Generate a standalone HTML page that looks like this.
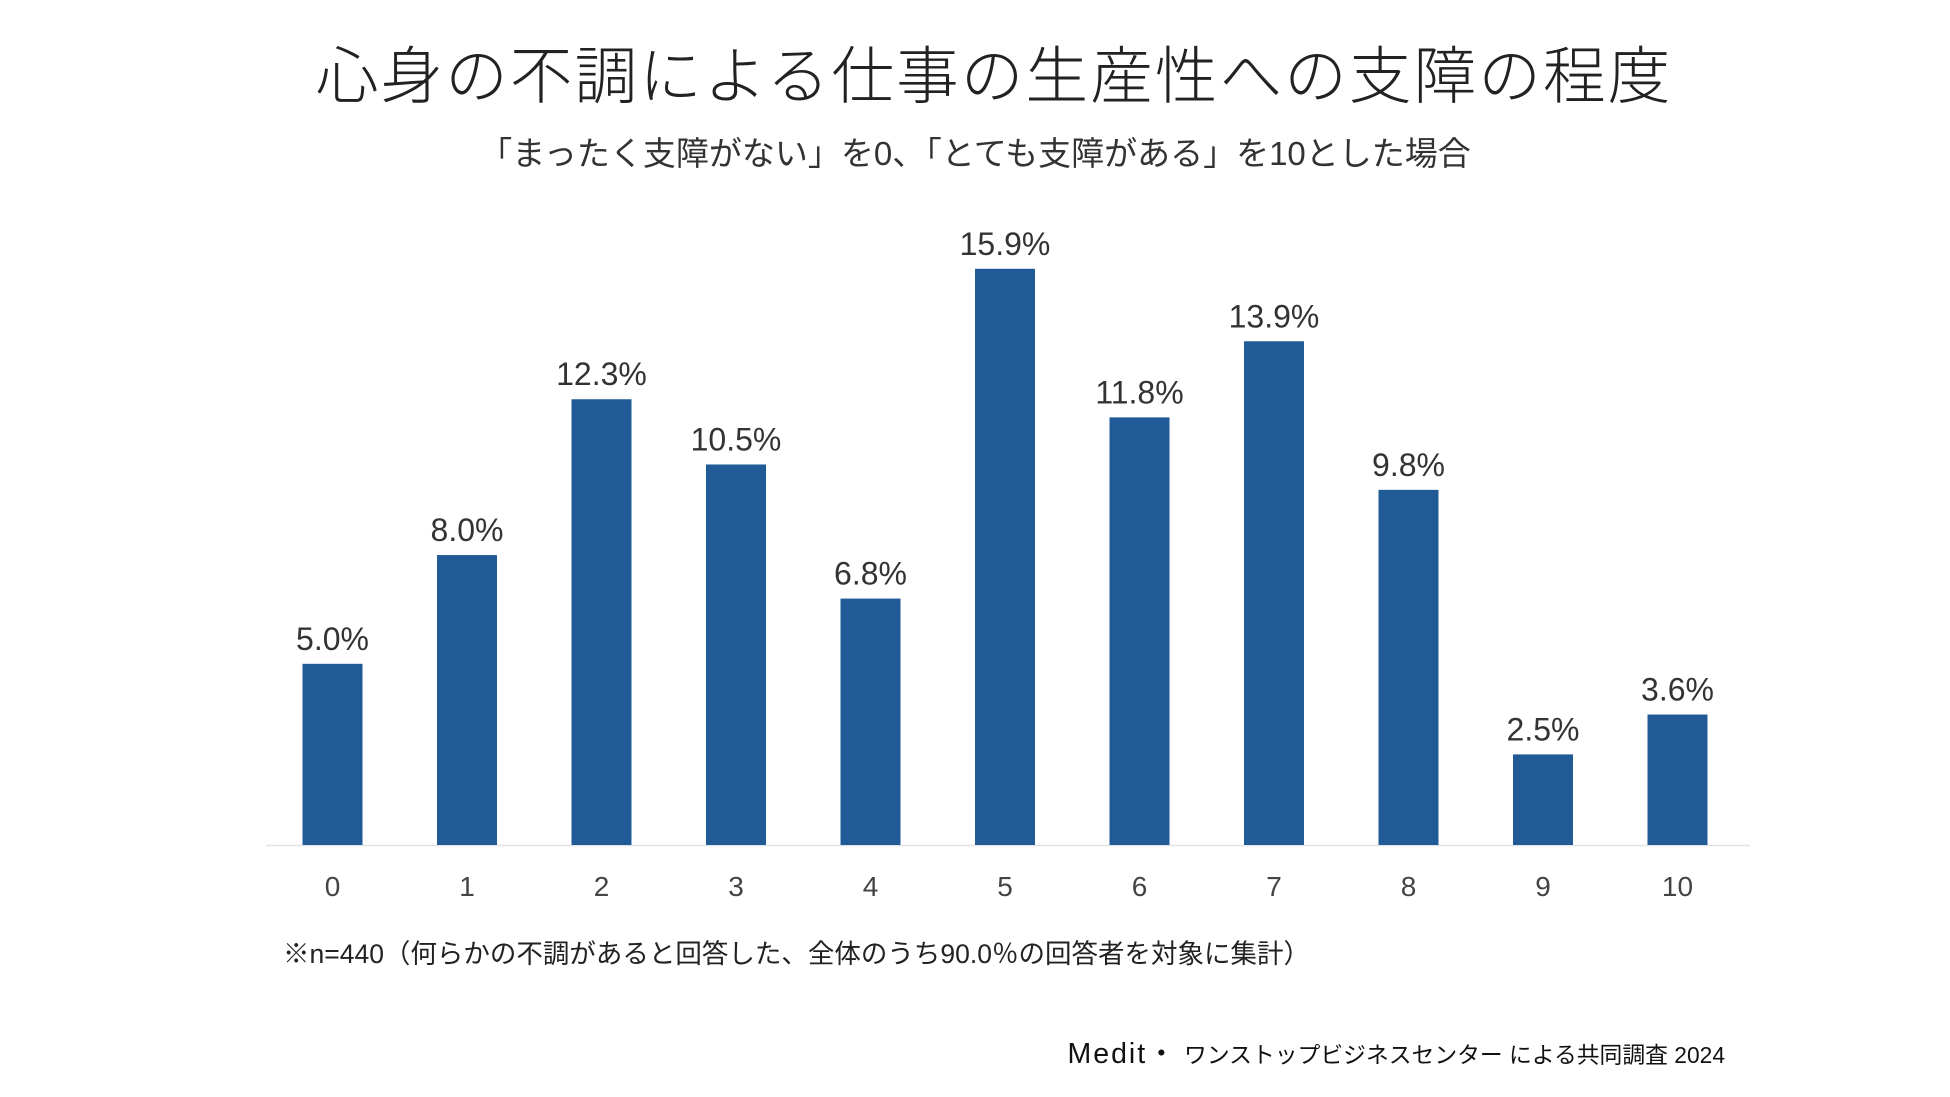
<!DOCTYPE html>
<html><head><meta charset="utf-8"><style>
html,body{margin:0;padding:0;background:#fff;}
body{width:1950px;height:1097px;position:relative;overflow:hidden;font-family:"Liberation Sans","Noto Sans CJK JP",sans-serif;color:#222;}
.t{position:absolute;white-space:nowrap;}
</style></head><body>
<div class="t" style="left:19px;width:1950px;text-align:center;top:26px;font-size:62.7px;font-weight:300;letter-spacing:2px;">心身の不調による仕事の生産性への支障の程度</div>
<div class="t" style="left:0;width:1950px;text-align:center;top:127px;font-size:33px;color:#333;">「まったく支障がない」を0、「とても支障がある」を10とした場合</div>
<svg id="chart" width="1950" height="1097" style="position:absolute;left:0;top:0;"></svg>
<div class="t" style="left:283px;top:932px;font-size:26.5px;color:#222;">※n=440（何らかの不調があると回答した、全体のうち90.0％の回答者を対象に集計）</div>
<div class="t" style="right:225px;top:1031px;font-size:22.8px;color:#111;"><span style="font-size:28.5px;letter-spacing:2px;">Medit・</span> ワンストップビジネスセンター による共同調査 2024</div>
<script>
const categories=["0","1","2","3","4","5","6","7","8","9","10"];
const values=[5.0,8.0,12.3,10.5,6.8,15.9,11.8,13.9,9.8,2.5,3.6];
const labels=["5.0%","8.0%","12.3%","10.5%","6.8%","15.9%","11.8%","13.9%","9.8%","2.5%","3.6%"];
const svg=document.getElementById('chart');
const NS='http://www.w3.org/2000/svg';
const baseY=845, pxPer=36.24, x0=332.5, step=134.5, bw=60;
function xs(i){return x0+i*step;}
function ys(v){return baseY-v*pxPer;}
function mk(t,a){const e=document.createElementNS(NS,t);for(const k in a)e.setAttribute(k,a[k]);svg.appendChild(e);return e;}
const ax=mk('line',{x1:266,x2:1750,y1:845.5,y2:845.5,stroke:'#e3e3e3','stroke-width':1.5});


values.forEach((v,i)=>{
  const r=mk('rect',{x:xs(i)-bw/2,y:ys(v),width:bw,height:baseY-ys(v),fill:'#215b97'});
  
  
  const t=mk('text',{x:xs(i),y:ys(v)-14,'text-anchor':'middle','font-size':32,fill:'#333','font-family':'Liberation Sans, sans-serif'});
  t.textContent=labels[i];
  
  
  const c=mk('text',{x:xs(i),y:896,'text-anchor':'middle','font-size':28,fill:'#444','font-family':'Liberation Sans, sans-serif'});
  c.textContent=categories[i];
  
  
});
</script>
</body></html>
